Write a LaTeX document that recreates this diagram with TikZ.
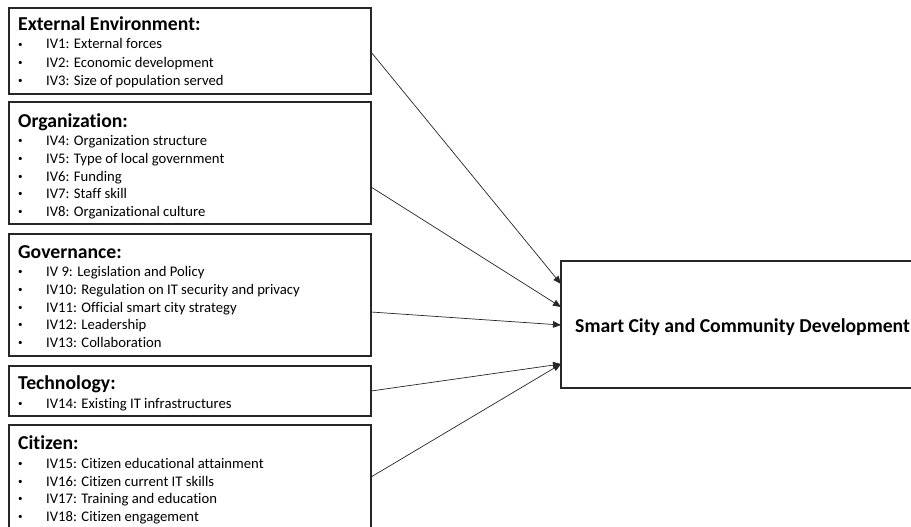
\documentclass[tikz,border=0pt]{standalone}
\usepackage{fontspec}
\setmainfont{Carlito}[Ligatures=NoCommon]
\usetikzlibrary{arrows.meta}
\begin{document}
\begin{tikzpicture}[x=1pt,y=-1pt,
  boxnode/.style={draw=black!85,line width=1.6pt,inner sep=0pt},
  head/.style={anchor=base west,inner sep=0pt,font=\fontsize{19.7}{22}\selectfont\bfseries},
  itm/.style={anchor=base west,inner sep=0pt,font=\fontsize{14.67}{18}\selectfont},
  link/.style={line width=0.7pt,draw=black!85,-{Triangle[length=8pt,width=6.5pt]}}]
\useasboundingbox (0,0) rectangle (911,527);
\newcommand{\bul}{\makebox[28pt][l]{\raisebox{1.5pt}{\fontsize{9}{9}\selectfont •}}}
% boxes
\node[boxnode,minimum width=362pt,minimum height=86pt] (b1) at (190,51) {};
\node[boxnode,minimum width=362pt,minimum height=122pt] (b2) at (190,163) {};
\node[boxnode,minimum width=362pt,minimum height=122pt] (b3) at (190,295) {};
\node[boxnode,minimum width=362pt,minimum height=50pt] (b4) at (190,391) {};
\node[boxnode,minimum width=362pt,minimum height=110pt] (b5) at (190,480) {};
\node[boxnode,minimum width=358pt,minimum height=127pt] (out) at (740,324.5) {};
% texts
\node[head] (h1) at (18,31) {External Environment:};
\node[itm] (i1) at (18,49) {\bul IV1: External forces};
\node[itm] (i2) at (18,67) {\bul IV2: Economic development};
\node[itm] (i3) at (18,85) {\bul IV3: Size of population served};
\node[head] (h2) at (18,128) {Organization:};
\node[itm] (i4) at (18,145) {\bul IV4: Organization structure};
\node[itm] (i5) at (18,163) {\bul IV5: Type of local government};
\node[itm] (i6) at (18,181) {\bul IV6: Funding};
\node[itm] (i7) at (18,198) {\bul IV7: Staff skill};
\node[itm] (i8) at (18,216) {\bul IV8: Organizational culture};
\node[head] (h3) at (18,258) {Governance:};
\node[itm] (i9) at (18,276) {\bul IV 9: Legislation and Policy};
\node[itm] (i10) at (18,294) {\bul IV10: Regulation on IT security and privacy};
\node[itm] (i11) at (18,312) {\bul IV11: Official smart city strategy};
\node[itm] (i12) at (18,329) {\bul IV12: Leadership};
\node[itm] (i13) at (18,347) {\bul IV13: Collaboration};
\node[head] (h4) at (18,389) {Technology:};
\node[itm] (i14) at (18,408) {\bul IV14: Existing IT infrastructures};
\node[head] (h5) at (18,449) {Citizen:};
\node[itm] (i15) at (18,468) {\bul IV15: Citizen educational attainment};
\node[itm] (i16) at (18,486) {\bul IV16: Citizen current IT skills};
\node[itm] (i17) at (18,503) {\bul IV17: Training and education};
\node[itm] (i18) at (18,521) {\bul IV18: Citizen engagement};
\node[head] (ot) at (575,332) {Smart City and Community Development};
% connector ends
\coordinate (s1) at (371,52);
\coordinate (s2) at (371,187);
\coordinate (s3) at (371,312);
\coordinate (s4) at (371,391);
\coordinate (s5) at (371,477);
\coordinate (e1) at (561,284);
\coordinate (e2) at (561,307);
\coordinate (e3) at (561,325);
\coordinate (e4) at (561,364);
\coordinate (e5) at (561,364);
\draw[link] (s1) -- (e1);
\draw[link] (s2) -- (e2);
\draw[link] (s3) -- (e3);
\draw[link] (s4) -- (e4);
\draw[link] (s5) -- (e5);
\end{tikzpicture}
\end{document}
